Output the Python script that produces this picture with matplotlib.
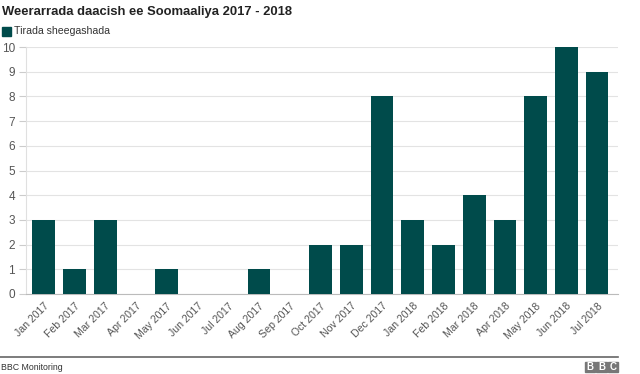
import matplotlib
matplotlib.use("Agg")
import matplotlib.pyplot as plt
from matplotlib.patches import Rectangle
import matplotlib.transforms as mtransforms

months = ["Jan 2017", "Feb 2017", "Mar 2017", "Apr 2017", "May 2017", "Jun 2017",
          "Jul 2017", "Aug 2017", "Sep 2017", "Oct 2017", "Nov 2017", "Dec 2017",
          "Jan 2018", "Feb 2018", "Mar 2018", "Apr 2018", "May 2018", "Jun 2018", "Jul 2018"]
values = [3, 1, 3, 0, 1, 0, 0, 1, 0, 2, 2, 8, 3, 2, 4, 3, 8, 10, 9]
yticks = list(range(0, 11))

plt.rcParams['font.family'] = ['Liberation Sans', 'DejaVu Sans']
W, H = 640, 374
fig = plt.figure(figsize=(W/100, H/100), dpi=100)
ax = fig.add_axes([26/W, 1-294/H, (618-26)/W, (294-47)/H])

bar_color = '#004b4b'
x = list(range(len(months)))
ax.bar(x, values, width=0.74, color=bar_color, zorder=3)
ax.set_xlim(-0.58, len(months) - 0.32)
ax.set_ylim(0, 10)
ax.set_yticks(yticks)
ax.set_yticklabels([str(v) for v in yticks], fontsize=8.5, color='#555555')
ax.set_xticks(x)
ax.set_xticklabels(months, rotation=45, ha='right', rotation_mode='anchor',
                   fontsize=7.6, color='#555555')
offset = mtransforms.ScaledTranslation(5/100, 0, fig.dpi_scale_trans)
for lbl in ax.get_xticklabels():
    lbl.set_transform(lbl.get_transform() + offset)
ax.tick_params(axis='x', length=0, pad=5)
ax.tick_params(axis='y', length=5, color='#cccccc', pad=3)
ax.grid(axis='y', color='#e3e3e3', linewidth=0.8, zorder=0)
for s in ['top', 'right']:
    ax.spines[s].set_visible(False)
ax.spines['left'].set_color('#e0e0e0')
ax.spines['bottom'].set_color('#bbbbbb')

fig.text(2/W, 1-12/H, "Weerarrada daacish ee Soomaaliya 2017 - 2018", fontsize=9.4,
         fontweight='bold', color='#222222', va='center', ha='left')
fig.patches.append(Rectangle((2/W, 1-36/H), 9/W, 9/H, transform=fig.transFigure,
                             color=bar_color, figure=fig))
fig.text(14/W, 1-31.5/H, "Tirada sheegashada", fontsize=7.6, color='#333333',
         va='center', ha='left')

fig.add_artist(plt.Line2D([0, 618/W], [1-357/H, 1-357/H], color='#666666',
                          linewidth=1.2, transform=fig.transFigure))
fig.text(1/W, 1-367/H, "BBC Monitoring", fontsize=6.3, color='#333333',
         va='center', ha='left')
for i, letter in enumerate("BBC"):
    x0 = 585 + i * 11.3
    fig.patches.append(Rectangle((x0/W, 1-372/H), 10.3/W, 10/H, transform=fig.transFigure,
                                 color='#777777', figure=fig))
    fig.text((x0+5.15)/W, 1-367/H, letter, fontsize=7, fontweight='bold', color='white',
             va='center', ha='center')

fig.savefig("out.png", dpi=100)
